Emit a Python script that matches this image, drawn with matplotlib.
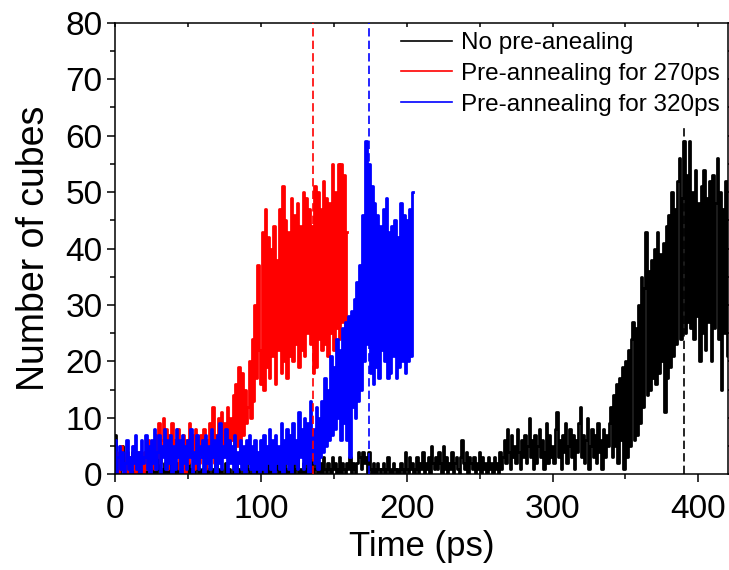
import numpy as np
import matplotlib.pyplot as plt

plt.rcParams['font.family'] = ['Liberation Sans', 'DejaVu Sans']

# number of cubes, one value per ps
black_vals = [
    7, 1, 3, 0, 2, 5, 1, 0, 3, 2, 0, 1, 4, 0, 2, 1, 0, 3, 1, 0,
    2, 0, 1, 3, 0, 1, 0, 2, 0, 1, 3, 0, 1, 0, 2, 0, 1, 0, 2, 1,
    0, 1, 0, 2, 0, 3, 1, 0, 1, 0, 2, 0, 1, 0, 0, 1, 2, 0, 1, 0,
    1, 0, 2, 0, 1, 0, 0, 1, 0, 2, 0, 1, 0, 1, 0, 0, 2, 0, 1, 0,
    0, 1, 0, 2, 0, 1, 0, 0, 1, 0, 2, 1, 0, 0, 1, 0, 1, 0, 2, 0,
    1, 0, 0, 1, 0, 2, 0, 1, 0, 0, 1, 2, 0, 1, 0, 0, 2, 0, 1, 0,
    1, 0, 2, 0, 1, 3, 0, 1, 0, 2, 1, 0, 2, 1, 0, 3, 0, 1, 2, 0,
    1, 2, 0, 3, 1, 0, 2, 1, 0, 3, 1, 2, 0, 1, 3, 0, 2, 1, 0, 2,
    1, 3, 0, 2, 1, 0, 2, 4, 3, 1, 4, 2, 3, 0, 4, 1, 0, 2, 1, 0,
    2, 1, 0, 1, 2, 0, 1, 3, 0, 1, 0, 2, 1, 0, 1, 0, 2, 1, 0, 4,
    1, 0, 3, 1, 2, 0, 1, 3, 0, 2, 1, 4, 0, 2, 1, 3, 0, 5, 2, 1,
    3, 1, 4, 2, 0, 5, 1, 3, 0, 2, 1, 4, 0, 2, 3, 1, 0, 3, 6, 2,
    1, 4, 0, 3, 2, 1, 3, 0, 2, 1, 4, 0, 3, 1, 2, 0, 3, 1, 2, 0,
    3, 1, 2, 0, 4, 1, 3, 6, 2, 8, 4, 1, 7, 3, 5, 2, 8, 4, 1, 6,
    3, 7, 2, 5, 10, 3, 6, 1, 7, 2, 5, 8, 3, 6, 1, 4, 9, 2, 7, 3,
    5, 2, 8, 11, 3, 6, 1, 7, 4, 9, 2, 5, 8, 3, 7, 1, 6, 4, 9, 12,
    3, 7, 2, 6, 10, 1, 5, 8, 3, 7, 2, 9, 4, 6, 1, 8, 3, 7, 5, 9,
    12, 3, 14, 5, 16, 2, 17, 6, 19, 1, 20, 3, 22, 5, 24, 27, 6, 26, 7, 30,
    9, 35, 12, 33, 43, 14, 36, 15, 38, 17, 40, 16, 43, 18, 39, 20, 41, 11, 44, 17,
    46, 19, 50, 21, 47, 23, 52, 56, 24, 49, 59, 25, 53, 27, 59, 26, 50, 24, 54, 28,
    48, 20, 51, 25, 54, 22, 49, 27, 52, 20, 53, 26, 48, 56, 24, 50, 15, 47, 25, 52,
    21,
]

red_vals = [
    1, 4, 0, 3, 5, 1, 2, 0, 4, 2, 0, 3, 1, 5, 0, 2, 4, 1, 3, 0,
    4, 1, 3, 6, 0, 2, 5, 1, 7, 3, 9, 2, 6, 10, 4, 8, 1, 7, 3, 9,
    2, 6, 4, 8, 1, 5, 3, 7, 0, 6, 2, 9, 4, 7, 1, 8, 3, 6, 2, 7,
    4, 8, 1, 6, 3, 9, 5, 12, 2, 7, 4, 10, 6, 11, 3, 9, 5, 12, 4, 10,
    6, 14, 3, 16, 5, 19, 4, 18, 7, 15, 9, 12, 20, 10, 24, 13, 30, 17, 37, 22,
    16, 43, 15, 47, 19, 42, 17, 40, 21, 44, 16, 38, 22, 47, 18, 51, 20, 45, 17, 43,
    21, 49, 20, 46, 23, 48, 19, 44, 22, 50, 21, 49, 25, 47, 23, 44, 18, 51, 19, 50,
    24, 47, 22, 52, 23, 49, 21, 48, 25, 55, 22, 50, 26, 55, 24, 55, 27, 53, 25, 43,
]

blue_vals = [
    6, 0, 3, 5, 1, 4, 0, 2, 6, 1, 3, 0, 5, 2, 7, 1, 4, 0, 6, 2,
    3, 7, 1, 5, 0, 6, 2, 8, 1, 4, 7, 0, 5, 3, 8, 1, 6, 2, 7, 0,
    5, 1, 8, 3, 6, 0, 7, 2, 5, 1, 6, 3, 8, 0, 4, 2, 7, 1, 5, 3,
    6, 0, 7, 2, 5, 1, 8, 3, 6, 0, 7, 2, 9, 1, 5, 3, 8, 0, 6, 2,
    5, 1, 7, 0, 4, 2, 6, 1, 5, 0, 6, 2, 7, 1, 5, 0, 6, 1, 4, 0,
    6, 1, 7, 0, 5, 2, 8, 1, 6, 0, 7, 2, 5, 1, 9, 0, 6, 2, 8, 1,
    7, 0, 9, 2, 6, 1, 11, 3, 8, 1, 10, 2, 9, 0, 13, 3, 8, 2, 12, 1,
    10, 3, 13, 4, 17, 5, 15, 6, 21, 7, 19, 8, 24, 10, 22, 6, 26, 9, 27, 6,
    28, 3, 29, 12, 31, 10, 34, 13, 37, 15, 46, 20, 59, 23, 55, 18, 51, 16, 48, 19,
    46, 17, 44, 22, 47, 20, 49, 17, 43, 18, 44, 21, 45, 17, 42, 19, 48, 20, 46, 18,
    45, 20, 47, 21, 50,
]

labels = ['No pre-anealing', 'Pre-annealing for 270ps', 'Pre-annealing for 320ps']
colors = ['black', 'red', 'blue']
# dashed markers (time, height)
mark_t = [390, 136, 174]
mark_top = [62, 80, 80]

t_black = np.arange(len(black_vals))
t_red = np.arange(len(red_vals))
t_blue = np.arange(len(blue_vals))

fig = plt.figure(figsize=(7.29, 5.70), dpi=100)
ax = fig.add_axes([0.158, 0.168, 0.840, 0.792])

ax.plot(t_black, black_vals, color='black', lw=2.0, drawstyle='steps-mid', label=labels[0])
ax.plot(t_red, red_vals, color='red', lw=2.0, drawstyle='steps-mid', label=labels[1])
ax.plot(t_blue, blue_vals, color='blue', lw=2.0, drawstyle='steps-mid', label=labels[2])

for t, top, c in zip(mark_t, mark_top, colors):
    ax.plot([t, t], [0, top], color=c, lw=1.2, dashes=(5, 2.5), zorder=5)

ax.set_xlim(0, 420)
ax.set_ylim(0, 80)
ax.set_xticks([0, 100, 200, 300, 400])
ax.set_xticks([50, 150, 250, 350], minor=True)
ax.set_yticks(range(0, 81, 10))
ax.set_yticks(range(5, 80, 10), minor=True)

ax.tick_params(which='both', direction='out', width=1.1, labelsize=24)
ax.tick_params(which='major', length=6)
ax.tick_params(which='minor', length=3.5)
ax.tick_params(axis='x', pad=8)
ax.tick_params(axis='y', pad=3)
ax.tick_params(which='both', top=True, right=True, direction='out')
ax.tick_params(which='both', labeltop=False, labelright=False)
for s in ax.spines.values():
    s.set_linewidth(1.1)
# mirrored ticks on top / right point inwards
for tk in ax.xaxis.get_major_ticks() + ax.xaxis.get_minor_ticks():
    tk.tick2line.set_marker(3)
    tk.tick2line.set_markersize(3)
for tk in ax.yaxis.get_major_ticks() + ax.yaxis.get_minor_ticks():
    tk.tick2line.set_marker(1)
    tk.tick2line.set_markersize(3)

ax.set_xlabel('Time (ps)', fontsize=25, labelpad=4)
ax.set_ylabel('Number of cubes', fontsize=27, labelpad=10)

leg = ax.legend(loc='upper right', bbox_to_anchor=(0.995, 0.99), frameon=False,
                fontsize=17.5, handlelength=2.1, handletextpad=0.35,
                labelspacing=0.36, borderpad=0.2, borderaxespad=0)
for ln in leg.get_lines():
    ln.set_linewidth(1.2)

plt.savefig('out.png', dpi=100)
